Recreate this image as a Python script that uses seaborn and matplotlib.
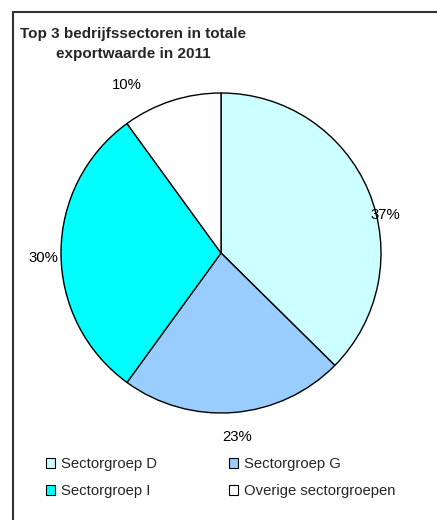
import matplotlib
matplotlib.use('Agg')
import matplotlib.pyplot as plt
from matplotlib.patches import Patch, Rectangle
import seaborn as sns

# Data
sectors = ['Sectorgroep D', 'Sectorgroep G', 'Sectorgroep I', 'Overige sectorgroepen']
shares = [37.4, 22.6, 30.0, 10.0]
colors = ['#CCFFFF', '#99CCFF', '#00FFFF', '#FFFFFF']
title = 'Top 3 bedrijfssectoren in totale\nexportwaarde in 2011'

sns.set_theme(style='white')
plt.rcParams['font.family'] = ['Liberation Sans', 'DejaVu Sans']

W, H = 437, 520
fig = plt.figure(figsize=(W / 100, H / 100), dpi=100)
fig.patch.set_facecolor('white')

# pie axes: centre (221, 253) px, radius 160 px
cx, cy, r = 221, 253, 160
ax = fig.add_axes([(cx - r) / W, 1 - (cy + r) / H, 2 * r / W, 2 * r / H])
wedges, texts, autotexts = ax.pie(
    shares, colors=colors, startangle=90, counterclock=False,
    autopct='%.0f%%', pctdistance=1.13,
    wedgeprops=dict(edgecolor='black', linewidth=1.0),
    textprops=dict(fontsize=10.7, color='black'))
ax.set_xlim(-1, 1)
ax.set_ylim(-1, 1)
ax.set_aspect('equal')
ax.axis('off')

# Excel-like label placement (pixel offsets from centre)
label_px = [(385, 215), (237, 437), (43, 258), (127, 85)]
for t, (px, py) in zip(autotexts, label_px):
    t.set_position(((px - cx) / r, (cy - py) / r))
    t.set_ha('center')
    t.set_va('center')

fig.text(133 / W, 1 - 44 / H, title, ha='center', va='center',
         fontsize=11, fontweight='bold', linespacing=1.62)

# legend laid out row by row (D, G / I, Overige)
order = [0, 2, 1, 3]
handles = [Patch(facecolor=colors[i], edgecolor='black', linewidth=0.8) for i in order]
labels = [sectors[i] for i in order]
fig.legend(handles, labels, loc='upper left', bbox_to_anchor=(46 / W, 1 - 457 / H),
           ncol=2, frameon=False, fontsize=10.7, borderpad=0, borderaxespad=0,
           handlelength=0.62, handleheight=0.62, handletextpad=0.42,
           columnspacing=4.8, labelspacing=0.9)

# chart border (only top and left edges visible)
fig.add_artist(Rectangle((12.5 / W, -0.1), 2, 1 - 11.5 / H + 0.1, transform=fig.transFigure,
                         fill=False, edgecolor='#333333', linewidth=1.5))

fig.savefig('out.png', dpi=100)
